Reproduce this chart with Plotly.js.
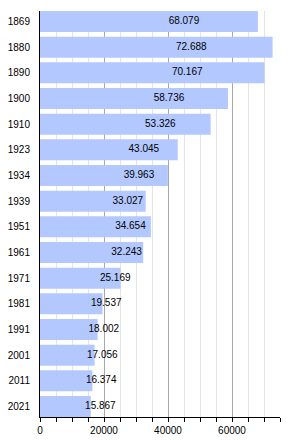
<!DOCTYPE html>
<html>
<head>
<meta charset="utf-8">
<script src="https://cdn.plot.ly/plotly-3.0.1.min.js"></script>
<style>html,body{margin:0;padding:0;background:#fff}#chart{width:300px;height:440px}</style>
</head>
<body>
<div id="chart"></div>
<script>
const years = ["1869","1880","1890","1900","1910","1923","1934","1939","1951","1961","1971","1981","1991","2001","2011","2021"];
const population = [68079,72688,70167,58736,53326,43045,39963,33027,34654,32243,25169,19537,18002,17056,16374,15867];
const xTickVals = [0,20000,40000,60000];

function fmt(v){ return String(v).replace(/\B(?=(\d{3})+(?!\d))/g, "."); }

const xMax = 75000;
const plotWidthPx = 240;
const labelShiftPx = 35;
const labelShift = labelShiftPx * xMax / plotWidthPx;

const bars = {
  type: 'bar',
  orientation: 'h',
  y: years,
  x: population,
  marker: {color: '#b3c8ff', line: {width: 0}},
  width: 0.82,
  hoverinfo: 'none'
};

const labels = {
  type: 'scatter',
  mode: 'text',
  y: years,
  x: population.map(v => v / 2 + labelShift),
  text: population.map(fmt),
  textposition: 'middle center',
  textfont: {family: 'Liberation Sans, Arial, sans-serif', size: 10, color: '#000'},
  cliponaxis: false,
  hoverinfo: 'none'
};

const layout = {
  width: 300, height: 440,
  margin: {l: 40, r: 20, t: 11, b: 23, pad: 0},
  paper_bgcolor: '#fff', plot_bgcolor: '#fff',
  showlegend: false,
  font: {family: 'Liberation Sans, Arial, sans-serif', size: 10, color: '#000'},
  xaxis: {
    range: [0, xMax],
    tickvals: xTickVals,
    ticktext: xTickVals.map(String),
    ticks: 'outside', ticklen: 4, tickcolor: '#000', tickwidth: 1,
    showline: true, linecolor: '#000', linewidth: 1,
    showgrid: true, gridcolor: '#a8a8a8', gridwidth: 1,
    zeroline: false,
    minor: {dtick: 5000, tick0: 0, ticks: 'outside', ticklen: 4, tickcolor: '#000', showgrid: true, gridcolor: '#e4e4e4', gridwidth: 1},
    fixedrange: true
  },
  yaxis: {
    type: 'category',
    range: [15.41, -0.41],
    showline: true, linecolor: '#000', linewidth: 1,
    ticks: '', showgrid: false, zeroline: false,
    ticklabelstandoff: 7,
    fixedrange: true
  }
};

Plotly.newPlot('chart', [bars, labels], layout, {displayModeBar: false, staticPlot: true});
</script>
</body>
</html>
